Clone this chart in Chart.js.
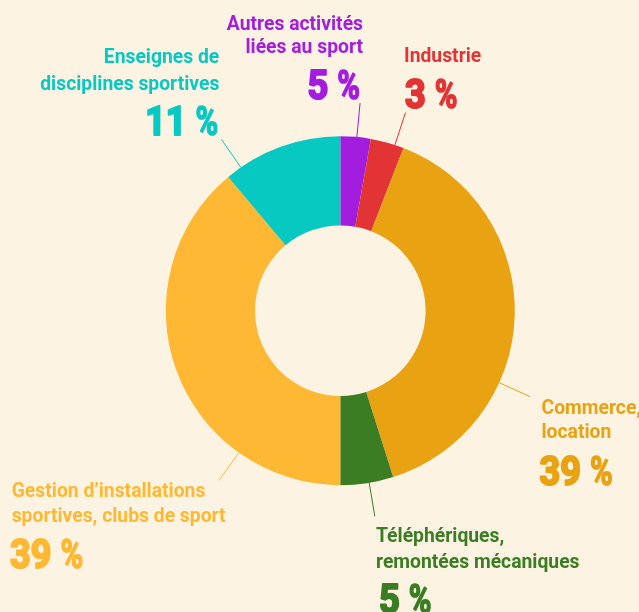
<!DOCTYPE html>
<html>
<head>
<meta charset="utf-8">
<script src="https://cdn.jsdelivr.net/npm/chart.js@4"></script>
<style>
  html, body { margin: 0; padding: 0; background: #FDF3E3; }
  #wrap { width: 639px; height: 612px; position: relative; }
</style>
</head>
<body>
<div id="wrap"><canvas id="c" width="639" height="612"></canvas></div>
<script>
// ---- data ----
const categories = [
  'Autres activités liées au sport',
  'Industrie',
  'Commerce, location',
  'Téléphériques, remontées mécaniques',
  'Gestion d’installations sportives, clubs de sport',
  'Enseignes de disciplines sportives'
];
const labelLines = [
  ['Autres activités', 'liées au sport'],
  ['Industrie'],
  ['Commerce,', 'location'],
  ['Téléphériques,', 'remontées mécaniques'],
  ['Gestion d’installations', 'sportives, clubs de sport'],
  ['Enseignes de', 'disciplines sportives']
];
const shares = [2.8, 3.1, 39.2, 4.9, 38.9, 11.1];
const pctLabels = ['5', '3', '39', '5', '39', '11'];

// ---- styles / layout ----
const sliceColors = ['#A31DDF', '#E23434', '#E9A212', '#3A7D22', '#FFB833', '#08C8C2'];
const textColors  = ['#A31DDF', '#E23434', '#E9A212', '#3A7D22', '#FFB833', '#08C8C2'];
const leaderFrac = [0.54, 0.73, 0.66, 0.46, 0.254, 0.13];
const leaderLen = 34;
const labelLayout = [
  { align: 'right', x: 363,   lines: [30, 53],     px: 360,   pb: 99 },
  { align: 'left',  x: 404,   lines: [62],         px: 405,   pb: 108 },
  { align: 'left',  x: 541.5, lines: [414, 438],   px: 539.5, pb: 484.5 },
  { align: 'left',  x: 376,   lines: [541.7, 568], px: 379,   pb: 612.5 },
  { align: 'left',  x: 11.7,  lines: [497, 521.7], px: 10,    pb: 567.7 },
  { align: 'right', x: 219.3, lines: [63.3, 90],   px: 218.3, pb: 135 }
];
const BG = '#FDF3E3';
const TEXT_FONT = 'bold 21px Roboto, "Liberation Sans", sans-serif';
const TEXT_SX = 0.92;
const BIG_FONT = 'bold 41px Roboto, "Liberation Sans", sans-serif';
const DIGIT_SX = 0.88;
const PCT_SX = 0.75;
const PCT_GAP = 9;

function drawScaled(ctx, text, x, y, align, sx, thicken) {
  const w = ctx.measureText(text).width * sx;
  const left = align === 'right' ? x - w : x;
  ctx.save();
  ctx.translate(left, y);
  ctx.scale(sx, 1);
  ctx.textAlign = 'left';
  ctx.fillText(text, 0, 0);
  if (thicken) {
    ctx.strokeStyle = ctx.fillStyle;
    ctx.lineWidth = thicken;
    ctx.lineJoin = 'round';
    ctx.strokeText(text, 0, 0);
  }
  ctx.restore();
  return w;
}

const bgPlugin = {
  id: 'bg',
  beforeDraw(chart) {
    const ctx = chart.ctx;
    ctx.save();
    ctx.fillStyle = BG;
    ctx.fillRect(0, 0, chart.width, chart.height);
    ctx.restore();
  }
};

const labelPlugin = {
  id: 'labels',
  afterDraw(chart) {
    const ctx = chart.ctx;
    const meta = chart.getDatasetMeta(0);
    meta.data.forEach((arc, i) => {
      const p = arc.getProps(['x', 'y', 'startAngle', 'endAngle', 'outerRadius'], true);
      const a = p.startAngle + leaderFrac[i] * (p.endAngle - p.startAngle);
      const r0 = p.outerRadius, r1 = p.outerRadius + leaderLen;
      ctx.save();
      ctx.strokeStyle = sliceColors[i];
      ctx.lineWidth = 1;
      ctx.beginPath();
      ctx.moveTo(p.x + Math.cos(a) * r0, p.y + Math.sin(a) * r0);
      ctx.lineTo(p.x + Math.cos(a) * r1, p.y + Math.sin(a) * r1);
      ctx.stroke();

      const L = labelLayout[i];
      ctx.fillStyle = textColors[i];
      ctx.textBaseline = 'alphabetic';
      ctx.font = TEXT_FONT;
      labelLines[i].forEach((line, k) => {
        drawScaled(ctx, line, L.x, L.lines[k], L.align, TEXT_SX, 0);
      });
      // big percentage
      ctx.font = BIG_FONT;
      const numW = ctx.measureText(pctLabels[i]).width * DIGIT_SX;
      const pW = ctx.measureText('%').width * PCT_SX;
      const total = numW + PCT_GAP + pW;
      const left = L.align === 'right' ? L.px - total : L.px;
      drawScaled(ctx, pctLabels[i], left, L.pb, 'left', DIGIT_SX, 2.2);
      drawScaled(ctx, '%', left + numW + PCT_GAP, L.pb, 'left', PCT_SX, 1.6);
      ctx.restore();
    });
  }
};

new Chart(document.getElementById('c'), {
  type: 'doughnut',
  data: {
    labels: categories,
    datasets: [{
      data: shares,
      backgroundColor: sliceColors,
      borderWidth: 0,
      hoverOffset: 0
    }]
  },
  options: {
    responsive: false,
    animation: false,
    radius: 174.5,
    cutout: 85.3,
    layout: { padding: { left: 165.8, right: 124.2, top: 136.2, bottom: 126.8 } },
    plugins: {
      legend: { display: false },
      tooltip: { enabled: false }
    }
  },
  plugins: [bgPlugin, labelPlugin]
});
</script>
</body>
</html>
